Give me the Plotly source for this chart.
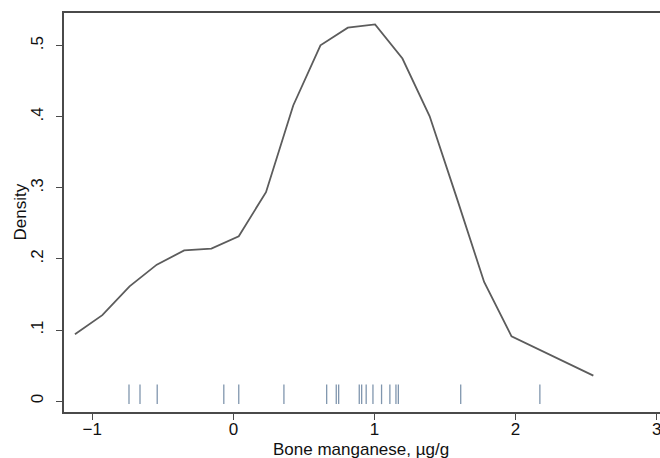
import plotly.graph_objects as go

# Kernel density estimate (evaluation points and density values)
grid_x = [-1.123, -0.929, -0.736, -0.543, -0.349, -0.156, 0.038, 0.231, 0.424, 0.617,
          0.811, 1.004, 1.198, 1.391, 1.584, 1.777, 1.971, 2.164, 2.357, 2.551]
density = [0.094, 0.121, 0.1615, 0.192, 0.212, 0.2146, 0.232, 0.294, 0.416, 0.5006,
           0.5255, 0.530, 0.482, 0.4007, 0.2853, 0.1676, 0.0912, 0.0727, 0.0543, 0.0359]

# Observations shown as rug marks
observations = [-0.740, -0.662, -0.540, -0.068, 0.038, 0.358, 0.661, 0.729, 0.746,
                0.892, 0.909, 0.941, 0.989, 1.050, 1.109, 1.152, 1.169, 1.611, 2.172]

x_ticks = [-1, 0, 1, 2, 3]
x_tick_text = ["\u22121", "0", "1", "2", "3"]
y_ticks = [0, 0.1, 0.2, 0.3, 0.4, 0.5]
y_tick_text = ["0", ".1", ".2", ".3", ".4", ".5"]

x_title = "Bone manganese, \u00b5g/g"
y_title = "Density"

FONT = "Liberation Sans, Arial, Helvetica, sans-serif"
AXIS_COLOR = "#4a4a4a"

fig = go.Figure()
fig.add_trace(go.Scatter(
    x=grid_x, y=density, mode="lines",
    line=dict(color="#5c5c5c", width=1.8),
    hoverinfo="skip", showlegend=False,
))
fig.add_trace(go.Scatter(
    x=observations, y=[0.0096] * len(observations), mode="markers",
    marker=dict(symbol="line-ns", size=14,
                line=dict(color="#8096ae", width=1.3)),
    hoverinfo="skip", showlegend=False,
))

fig.update_layout(
    width=660, height=458,
    margin=dict(l=64, r=0, t=13, b=46),
    paper_bgcolor="white", plot_bgcolor="white",
    font=dict(family=FONT, size=17, color="#111111"),
    hovermode=False,
    xaxis=dict(
        range=[-1.2006, 3.0234],
        tickvals=x_ticks, ticktext=x_tick_text,
        ticks="outside", ticklen=6, tickwidth=1.2, tickcolor=AXIS_COLOR,
        showline=True, linecolor=AXIS_COLOR, linewidth=1.6, mirror=True,
        showgrid=False, zeroline=False,
        tickfont=dict(size=17), ticklabelstandoff=-5,
        ticklabeloverflow="allow",
        automargin=False,
    ),
    yaxis=dict(
        range=[-0.0153, 0.5461],
        tickvals=y_ticks, ticktext=y_tick_text,
        tickangle=-90,
        ticks="outside", ticklen=6, tickwidth=1.2, tickcolor=AXIS_COLOR,
        showline=True, linecolor=AXIS_COLOR, linewidth=1.6, mirror=False,
        showgrid=False, zeroline=False,
        tickfont=dict(size=17), ticklabelstandoff=6,
        automargin=False,
    ),
    annotations=[
        dict(text=x_title, xref="paper", yref="paper", x=0.5, y=0,
             xanchor="center", yanchor="top", xshift=-1, yshift=-26,
             showarrow=False, font=dict(size=17)),
        dict(text=y_title, xref="paper", yref="paper", x=0, y=0.5,
             xanchor="center", yanchor="middle", xshift=-44, textangle=-90,
             showarrow=False, font=dict(size=17)),
    ],
)

fig.write_html("out.html", config={"displayModeBar": False},
               post_script="document.body.style.margin='0';")
